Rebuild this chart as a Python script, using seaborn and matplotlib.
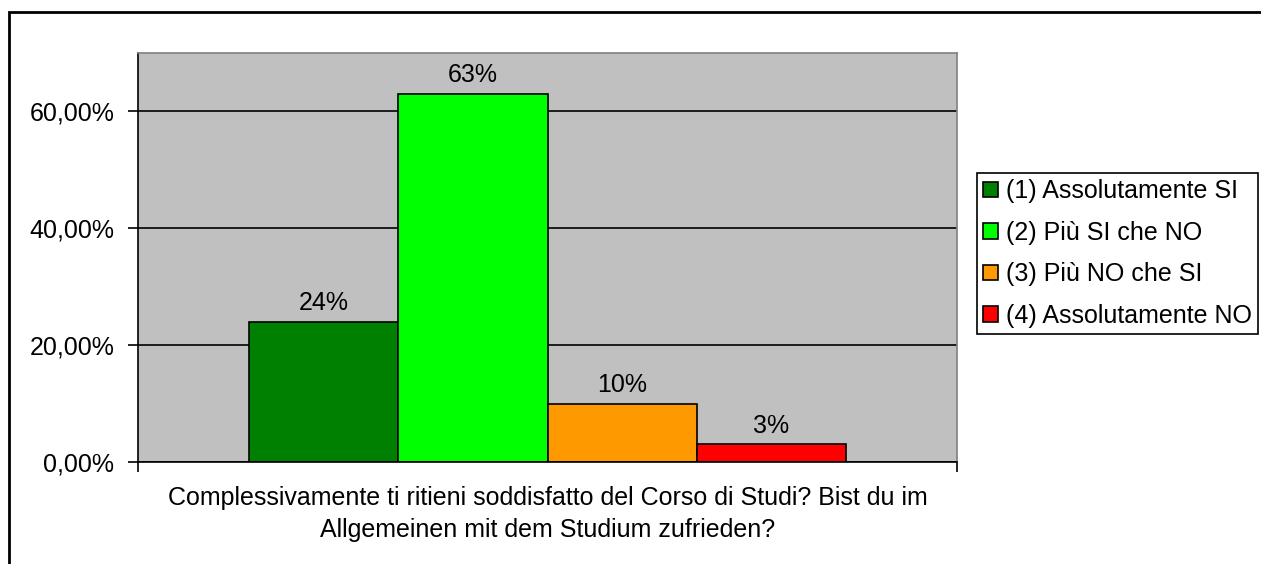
import matplotlib
matplotlib.use('Agg')
import matplotlib.pyplot as plt
from matplotlib.patches import Rectangle
from matplotlib.ticker import FuncFormatter
import seaborn as sns
import pandas as pd

question = ("Complessivamente ti ritieni soddisfatto del Corso di Studi? Bist du im\n"
            "Allgemeinen mit dem Studium zufrieden?")
answers = ["(1) Assolutamente SI", "(2) Più SI che NO",
           "(3) Più NO che SI", "(4) Assolutamente NO"]
shares = [0.24, 0.63, 0.10, 0.03]
bar_labels = ["24%", "63%", "10%", "3%"]
colors = ["#008000", "#00FF00", "#FF9900", "#FF0000"]

df = pd.DataFrame({"question": [question] * 4, "answer": answers, "share": shares})

sns.set_style("white")
plt.rcParams['font.family'] = ['Liberation Sans', 'DejaVu Sans']
plt.rcParams['text.color'] = 'black'
plt.rcParams['xtick.color'] = 'black'
plt.rcParams['ytick.color'] = 'black'
plt.rcParams['axes.labelcolor'] = 'black'

FS = 18

fig = plt.figure(figsize=(12.61, 5.64), dpi=100)
ax = fig.add_axes([138 / 1261, 1 - 462 / 564, 819 / 1261, 409 / 564])
ax.set_facecolor("#C0C0C0")

sns.barplot(data=df, x="question", y="share", hue="answer", palette=colors,
            width=0.728, saturation=1, edgecolor="black", linewidth=1.2,
            ax=ax, legend=True)

for cont, lab in zip(ax.containers, bar_labels):
    ax.bar_label(cont, labels=[lab], padding=5, fontsize=FS, color="black")

ax.set_xlim(-0.5, 0.5)
ax.set_ylim(0, 0.70)
ax.set_yticks([0, 0.2, 0.4, 0.6])
ax.yaxis.set_major_formatter(FuncFormatter(lambda v, p: f"{v * 100:.2f}%".replace(".", ",")))
ax.set_xticks([-0.5, 0.5])
ax.set_xticklabels(["", ""])
ax.tick_params(axis="both", direction="out", length=7, width=1.2, color="black",
               labelsize=FS, labelcolor="black", left=True, bottom=True, pad=10)
ax.grid(axis="y", color="black", linewidth=1.2)
ax.set_axisbelow(True)
ax.set_ylabel("")
ax.set_xlabel(question, fontsize=FS, labelpad=0, linespacing=1.45, color="black")

ax.spines["left"].set_color("black")
ax.spines["bottom"].set_color("black")
ax.spines["left"].set_linewidth(1.2)
ax.spines["bottom"].set_linewidth(1.2)
for s in ["top", "right"]:
    ax.spines[s].set_color("#808080")
    ax.spines[s].set_linewidth(1.2)

leg = ax.legend(loc="upper left", bbox_to_anchor=(977 / 1261, 1 - 173 / 564),
                bbox_transform=fig.transFigure, fontsize=FS, frameon=True,
                fancybox=False, edgecolor="black", framealpha=1,
                handlelength=0.6, handleheight=0.6, handletextpad=0.3,
                labelspacing=0.7, borderpad=0.25, borderaxespad=0)
leg.get_frame().set_linewidth(1.2)
for t in leg.get_texts():
    t.set_color("black")

# outer chart border, cut off at right and bottom like the reference
fig.add_artist(Rectangle((9 / 1261, -0.05), 1.1, 1 - 12 / 564 + 0.05,
                         transform=fig.transFigure, fill=False,
                         edgecolor="black", linewidth=2, clip_on=False))

fig.savefig("out.png", dpi=100)
plt.close()
